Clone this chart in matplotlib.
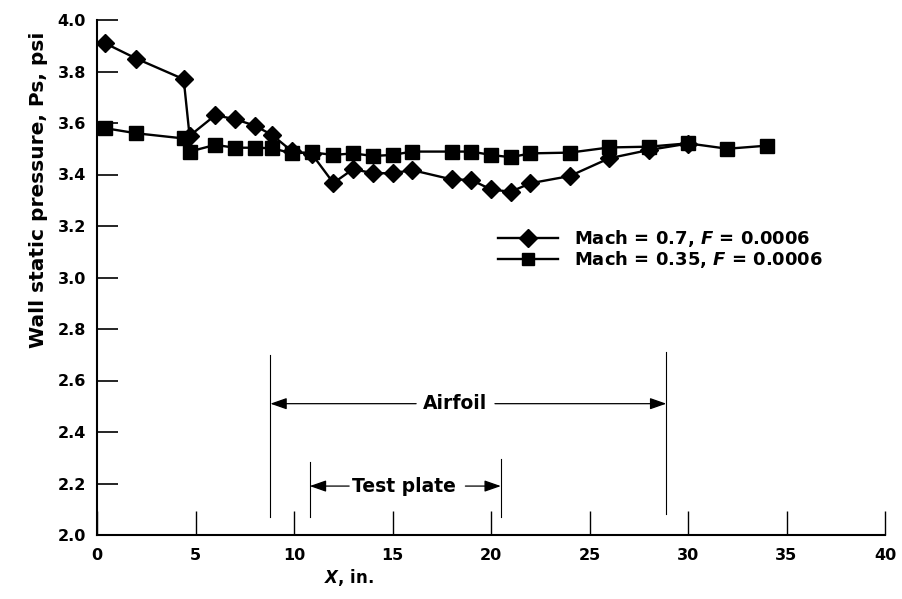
import matplotlib
matplotlib.use("Agg")
import matplotlib.pyplot as plt
from matplotlib.lines import Line2D

plt.rcParams['font.family'] = ['DejaVu Sans']
plt.rcParams['font.weight'] = 'bold'
plt.rcParams['mathtext.fontset'] = 'custom'
plt.rcParams['mathtext.it'] = 'DejaVu Sans:bold:italic'
plt.rcParams['mathtext.rm'] = 'DejaVu Sans:bold'

# ---- data ----
x_m07 = [0.4, 2, 4.4, 4.7, 6, 7, 8, 8.9, 9.9, 10.9, 12, 13, 14, 15, 16,
         18, 19, 20, 21, 22, 24, 26, 28, 30]
p_m07 = [3.91, 3.85, 3.77, 3.55, 3.63, 3.615, 3.59, 3.553, 3.49, 3.48, 3.367, 3.421,
         3.405, 3.405, 3.417, 3.381, 3.379, 3.342, 3.333, 3.366, 3.394, 3.463,
         3.495, 3.52]

x_m035 = [0.4, 2, 4.4, 4.7, 6, 7, 8, 8.9, 9.9, 10.9, 12, 13, 14, 15, 16,
          18, 19, 20, 21, 22, 24, 26, 28, 30, 32, 34]
p_m035 = [3.58, 3.56, 3.54, 3.489, 3.515, 3.504, 3.504, 3.502, 3.482, 3.486, 3.476,
          3.482, 3.472, 3.476, 3.489, 3.489, 3.489, 3.476, 3.467, 3.482, 3.485,
          3.505, 3.508, 3.521, 3.50, 3.512]

label_m07 = 'Mach = 0.7, $F$ = 0.0006'
label_m035 = 'Mach = 0.35, $F$ = 0.0006'

xticks = [0, 5, 10, 15, 20, 25, 30, 35, 40]
yticks = [2.0, 2.2, 2.4, 2.6, 2.8, 3.0, 3.2, 3.4, 3.6, 3.8, 4.0]

# annotation positions (x, in.)
airfoil_start, airfoil_end = 8.8, 28.9
plate_start, plate_end = 10.8, 20.5

fig = plt.figure(figsize=(9.03, 5.99), dpi=100)
ax = fig.add_axes([97/903, 1-535/599, 788/903, 515/599])

ax.plot(x_m07, p_m07, color='black', lw=1.7, marker='D', ms=9.5, zorder=3)
ax.plot(x_m035, p_m035, color='black', lw=1.7, marker='s', ms=10.5, zorder=3)

ax.set_xlim(0, 40)
ax.set_ylim(2.0, 4.0)
ax.set_xticks(xticks)
ax.set_yticks(yticks)
ax.set_xticklabels([str(v) for v in xticks])
ax.set_yticklabels([f'{v:.1f}' for v in yticks])
ax.tick_params(axis='x', direction='in', length=17, width=1.0, pad=9, labelsize=11.5)
ax.tick_params(axis='y', direction='in', length=15, width=1.2, pad=8, labelsize=11.5)
for lab in ax.get_xticklabels() + ax.get_yticklabels():
    lab.set_fontweight('bold')
for s in ['top', 'right']:
    ax.spines[s].set_visible(False)
for s in ['left', 'bottom']:
    ax.spines[s].set_linewidth(1.5)

# annotation lines
ax.plot([airfoil_start, airfoil_start], [2.07, 2.70], color='black', lw=0.8)
ax.plot([airfoil_end, airfoil_end], [2.08, 2.71], color='black', lw=0.8)
ax.plot([plate_start, plate_start], [2.07, 2.285], color='black', lw=0.8)
ax.plot([plate_end, plate_end], [2.07, 2.295], color='black', lw=0.8)

arr = dict(arrowstyle='-|>,head_length=1.0,head_width=0.35', color='black', lw=0.9,
           shrinkA=0, shrinkB=0)
y_air = 2.51
ax.text(18.17, y_air, 'Airfoil', ha='center', va='center', fontsize=13.5, fontweight='bold')
ax.annotate('', xy=(airfoil_start, y_air), xytext=(16.2, y_air), arrowprops=arr)
ax.annotate('', xy=(airfoil_end, y_air), xytext=(20.2, y_air), arrowprops=arr)

y_pl = 2.19
ax.text(15.6, y_pl, 'Test plate', ha='center', va='center', fontsize=13.5, fontweight='bold')
ax.annotate('', xy=(plate_start, y_pl), xytext=(12.8, y_pl), arrowprops=arr)
ax.annotate('', xy=(plate_end, y_pl), xytext=(18.7, y_pl), arrowprops=arr)

handles = [Line2D([], [], color='black', lw=1.7, marker='D', ms=9.5),
           Line2D([], [], color='black', lw=1.7, marker='s', ms=8.5)]
leg = ax.legend(handles, [label_m07, label_m035], loc='upper left',
                bbox_to_anchor=((498-97)/788, (535-228)/515), frameon=False,
                fontsize=13, handlelength=3.3, handletextpad=0.9,
                labelspacing=0.0, borderpad=0, borderaxespad=0, handleheight=0.7)

fig.text(39/903, 1-190/599, 'Wall static pressure, Ps, psi', rotation=90,
         ha='center', va='center', fontsize=14.5, fontweight='bold')
fig.text(349/903, 1-578/599, '$X$, in.', ha='center', va='center',
         fontsize=12, fontweight='bold')

fig.savefig('out.png', dpi=100)
